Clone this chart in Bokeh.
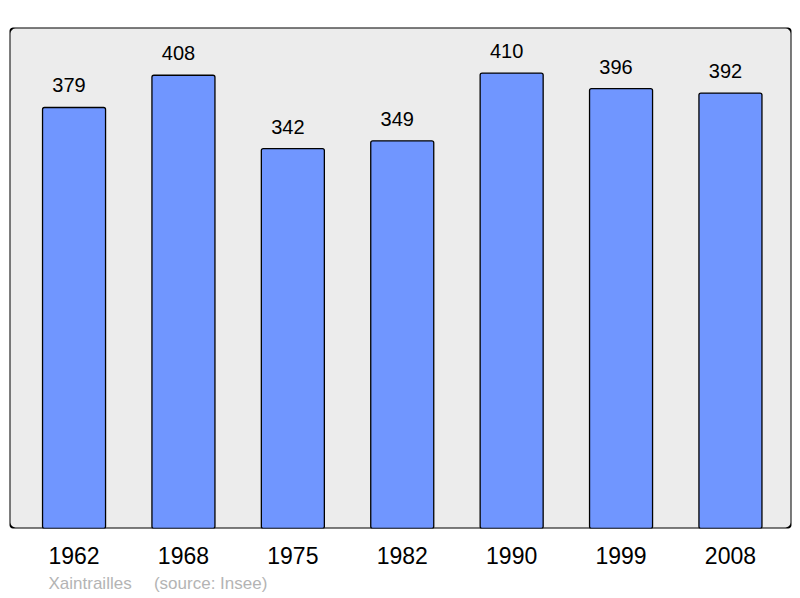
from bokeh.plotting import figure
from bokeh.models import Range1d, FixedTicker, BoxAnnotation, Title
from bokeh.core.properties import value
from bokeh.embed import file_html
from bokeh.resources import INLINE

# ─── data ───────────────────────────────────────────────────────────────────
years = ["1962", "1968", "1975", "1982", "1990", "1999", "2008"]
population = [379, 408, 342, 349, 410, 396, 392]
commune = "Xaintrailles"
source = "(source: Insee)"

idx = list(range(len(years)))
FONT = "Liberation Sans"

p = figure(
    width=792, height=598,
    x_range=Range1d(-0.59, 6.558), y_range=Range1d(0, 451),
    toolbar_location=None, output_backend="svg",
    min_border_left=9, min_border_right=1,
    min_border_top=27, min_border_bottom=62,
)
p.outline_line_color = None
p.background_fill_color = "white"
p.grid.grid_line_color = None
p.yaxis.visible = False

# frame: grey panel with a rounded black border
frame = BoxAnnotation(left=-0.59, right=6.558, bottom=0, top=451,
                      fill_color="#ececec", fill_alpha=1,
                      line_color="black", line_width=2, line_alpha=1,
                      border_radius=6, level="underlay")
p.add_layout(frame)

p.vbar(x=idx, top=population, width=0.576, bottom=0,
       fill_color="#7096ff", line_color="black", line_width=1.3,
       border_radius=2)

p.text(x=idx, y=population, text=[str(v) for v in population],
       x_offset=-5, y_offset=-22, text_align="center",
       text_baseline="alphabetic", text_font=value(FONT),
       text_font_size="20px", text_color="black")

ax = p.xaxis[0]
ax.ticker = FixedTicker(ticks=idx)
ax.major_label_overrides = {i: y for i, y in zip(idx, years)}
ax.axis_line_color = None
ax.major_tick_line_color = None
ax.minor_tick_line_color = None
ax.major_tick_out = 0
ax.major_label_standoff = 18
ax.major_label_text_font = FONT
ax.major_label_text_font_size = "23px"
ax.major_label_text_color = "black"

# footer under the axis
gap = "\u00a0" * 4 + "\u2009"
footer = Title(text=commune + gap + source, align="left", offset=39,
               standoff=11, text_font=FONT, text_font_size="17px",
               text_font_style="normal", text_color="#b4b4b4")
p.add_layout(footer, "below")

open("out.html", "w").write(file_html(p, INLINE))
